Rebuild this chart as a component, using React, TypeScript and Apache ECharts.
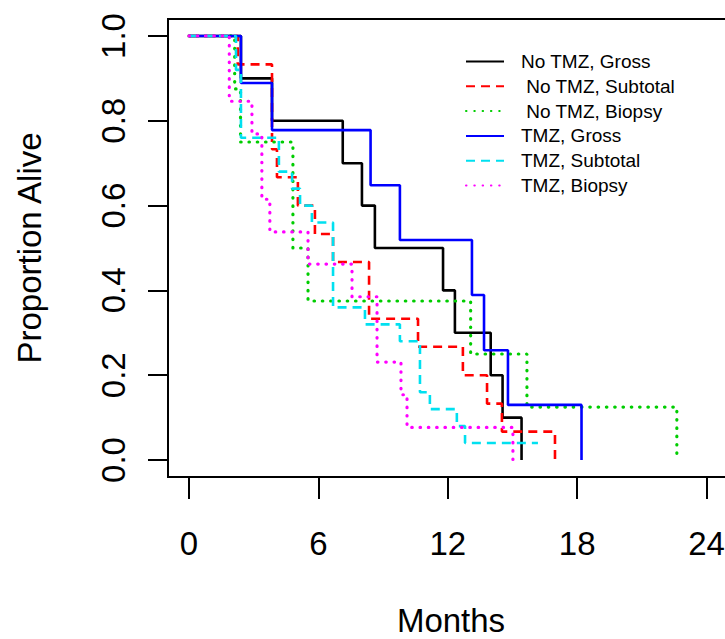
import React, { useEffect, useRef } from "react";
import * as echarts from "echarts";

// Kaplan-Meier curves: times (months) and survival proportions
const noTmzGrossT = [0, 2.41, 3.85, 7.13, 8.02, 8.62, 11.78, 12.33, 13.99, 14.54, 15.42];
const noTmzGrossS = [1, 0.9, 0.8, 0.7, 0.6, 0.5, 0.4, 0.3, 0.2, 0.1, 0];

const noTmzSubT = [0, 2.26, 3.85, 4.08, 5.05, 5.84, 6.68, 8.35, 10.62, 12.7, 13.82, 14.51, 16.97];
const noTmzSubS = [1, 0.933, 0.733, 0.667, 0.6, 0.533, 0.467, 0.333, 0.267, 0.2, 0.133, 0.067, 0];

const noTmzBioT = [0, 2.12, 2.39, 4.82, 5.52, 13.06, 15.67, 22.62];
const noTmzBioS = [1, 0.875, 0.75, 0.5, 0.375, 0.25, 0.125, 0];

const tmzGrossT = [0, 2.41, 3.85, 8.42, 9.78, 13.12, 13.68, 14.79, 18.2];
const tmzGrossS = [1, 0.889, 0.778, 0.648, 0.519, 0.389, 0.259, 0.13, 0];

const tmzSubT = [0, 2.18, 2.41, 4.17, 4.78, 5.15, 5.7, 6.68, 8.16, 9.78, 10.71, 11.17, 12.42, 12.8, 16.18];
const tmzSubS = [1, 0.92, 0.76, 0.68, 0.64, 0.6, 0.56, 0.36, 0.32, 0.28, 0.16, 0.12, 0.08, 0.04, 0.04];

const tmzBioT = [0, 1.87, 2.92, 3.38, 3.75, 5.52, 7.56, 8.72, 9.83, 10.11, 15.02];
const tmzBioS = [1, 0.846, 0.769, 0.615, 0.538, 0.462, 0.385, 0.231, 0.154, 0.077, 0];

const xTicks = [0, 6, 12, 18, 24];
const yTicks = [0, 0.2, 0.4, 0.6, 0.8, 1.0];

const seriesNames = [
  "No TMZ, Gross",
  " No TMZ, Subtotal",
  " No TMZ, Biopsy",
  "TMZ, Gross",
  "TMZ, Subtotal",
  "TMZ, Biopsy",
];

const FONT = "'Liberation Sans', Arial, Helvetica, sans-serif";

const zip = (t: number[], s: number[]) => t.map((v, i) => [v, s[i]]);

export default function App() {
  const ref = useRef<HTMLDivElement>(null);
  useEffect(() => {
    if (!ref.current) return;
    const chart = echarts.init(ref.current, null, { renderer: "svg" });
    const solid = (w: number) => ({ type: "solid", width: w });
    const dashed = { type: [9, 6], width: 2.6 };
    const dotted = { type: [0.5, 7.8], width: 3.2, cap: "round" };
    const defs = [
      { data: zip(noTmzGrossT, noTmzGrossS), color: "#000000", ls: solid(2.6) },
      { data: zip(noTmzSubT, noTmzSubS), color: "#ff0000", ls: dashed },
      { data: zip(noTmzBioT, noTmzBioS), color: "#00cd00", ls: dotted },
      { data: zip(tmzGrossT, tmzGrossS), color: "#0000ff", ls: solid(2.6) },
      { data: zip(tmzSubT, tmzSubS), color: "#00e0f0", ls: dashed },
      { data: zip(tmzBioT, tmzBioS), color: "#ff00ff", ls: dotted },
    ];
    chart.setOption({
      animation: false,
      backgroundColor: "#ffffff",
      textStyle: { fontFamily: FONT },
      grid: {
        left: 168,
        top: 19,
        width: 566,
        height: 458,
        outerBoundsMode: "none",
        containLabel: false,
        show: true,
        borderColor: "#000",
        borderWidth: 2,
        backgroundColor: "transparent",
      },
      legend: {
        orient: "vertical",
        left: 465,
        top: 52,
        padding: 0,
        itemWidth: 38,
        itemHeight: 14,
        itemGap: 5.8,
        data: seriesNames,
        itemStyle: { opacity: 0 },
        textStyle: {
          fontSize: 19,
          color: "#000",
          fontFamily: FONT,
          lineHeight: 19,
          padding: [0, 0, 0, 12],
        },
      },
      xAxis: {
        type: "value",
        min: -0.972,
        max: 25.27,
        name: "Months",
        nameLocation: "middle",
        nameGap: 127,
        nameTextStyle: { fontSize: 33, color: "#000", fontFamily: FONT },
        axisLine: { show: false, onZero: false },
        splitLine: { show: false },
        axisTick: {
          show: true,
          length: 22,
          customValues: xTicks,
          lineStyle: { color: "#000", width: 2 },
        },
        axisLabel: {
          customValues: xTicks,
          fontSize: 33,
          color: "#000",
          margin: 50,
          fontFamily: FONT,
        },
      },
      yAxis: {
        type: "value",
        min: -0.04,
        max: 1.04,
        name: "Proportion Alive",
        nameLocation: "middle",
        nameGap: 122,
        nameRotate: 90,
        nameTextStyle: { fontSize: 33, color: "#000", fontFamily: FONT },
        axisLine: { show: false, onZero: false },
        splitLine: { show: false },
        axisTick: {
          show: true,
          length: 20,
          customValues: yTicks,
          lineStyle: { color: "#000", width: 2 },
        },
        axisLabel: {
          customValues: yTicks,
          rotate: 90,
          fontSize: 33,
          color: "#000",
          margin: 38,
          fontFamily: FONT,
          formatter: (v: number) => v.toFixed(1),
        },
      },
      series: defs.map((d, i) => ({
        name: seriesNames[i],
        type: "line",
        step: "end",
        data: d.data,
        symbol: "none",
        color: d.color,
        lineStyle: { ...d.ls, color: d.color },
        z: 2 + i,
      })),
    });
    return () => chart.dispose();
  }, []);
  return (
    <div
      ref={ref}
      style={{ position: "absolute", left: 0, top: 0, width: 725, height: 639 }}
    />
  );
}
